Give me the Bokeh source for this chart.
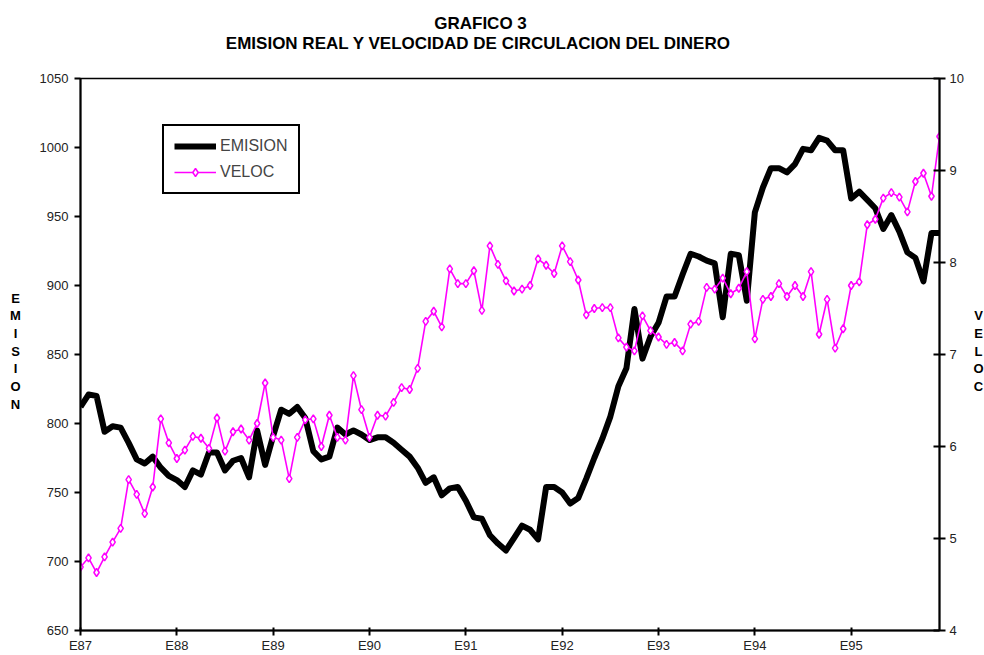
from bokeh.plotting import figure
from bokeh.models import Range1d, LinearAxis, FixedTicker, Legend, LegendItem
from bokeh.layouts import column, row
from bokeh.core.properties import value
from bokeh.embed import file_html
from bokeh.resources import INLINE

# ---------------- data (monthly, Jan 1987 .. Dec 1995) ----------------
emision = [812, 821, 820, 794, 798, 797, 786, 774, 771, 776, 768, 762,
           759, 754, 766, 763, 779, 779, 766, 773, 775, 761, 795, 770,
           791, 810, 807, 812, 804, 780, 774, 776, 797, 792, 795, 792,
           788, 790, 790, 786, 781, 776, 768, 757, 761, 748, 753, 754,
           744, 732, 731, 719, 713, 708, 717, 726, 723, 716, 754, 754,
           750, 742, 746, 760, 775, 789, 805, 827, 840, 883, 847, 863,
           873, 892, 892, 908, 923, 921, 918, 916, 877, 923, 922, 889,
           953, 971, 985, 985, 982, 988, 999, 998, 1007, 1005, 998, 998,
           963, 968, 962, 956, 941, 951, 939, 924, 920, 903, 938, 938]

veloc = [4.69, 4.79, 4.63, 4.80, 4.96, 5.11, 5.64, 5.48, 5.27, 5.56, 6.30, 6.04,
         5.87, 5.96, 6.11, 6.09, 5.98, 6.31, 5.95, 6.16, 6.19, 6.07, 6.25, 6.69,
         6.10, 6.07, 5.65, 6.10, 6.29, 6.30, 6.00, 6.34, 6.10, 6.07, 6.77, 6.40,
         6.10, 6.34, 6.33, 6.48, 6.64, 6.62, 6.85, 7.36, 7.47, 7.30, 7.93, 7.77,
         7.77, 7.91, 7.48, 8.18, 7.98, 7.80, 7.69, 7.71, 7.75, 8.04, 7.97, 7.88,
         8.18, 8.01, 7.81, 7.43, 7.50, 7.51, 7.51, 7.18, 7.08, 7.04, 7.42, 7.26,
         7.19, 7.11, 7.13, 7.04, 7.33, 7.36, 7.73, 7.71, 7.83, 7.66, 7.72, 7.90,
         7.17, 7.60, 7.63, 7.77, 7.63, 7.75, 7.63, 7.90, 7.22, 7.60, 7.07, 7.28,
         7.75, 7.79, 8.41, 8.47, 8.70, 8.76, 8.71, 8.55, 8.88, 8.97, 8.72, 9.37]

year_labels = ["E87", "E88", "E89", "E90", "E91", "E92", "E93", "E94", "E95"]
left_ticks = [650, 700, 750, 800, 850, 900, 950, 1000, 1050]
right_ticks = [4, 5, 6, 7, 8, 9, 10]

title_lines = ["GRAFICO 3", "EMISION REAL Y VELOCIDAD DE CIRCULACION DEL DINERO"]
left_title = "EMISION"
right_title = "VELOC"

months = list(range(len(emision)))
year_ticks = [12 * i for i in range(len(year_labels))]

FONT = "Liberation Sans"
TOP_H = 60
MAIN_H = 655 - TOP_H
LEFT_W = 30
RIGHT_W = 18
MAIN_W = 984 - LEFT_W - RIGHT_W


def text_panel(w, h):
    f = figure(width=w, height=h, output_backend="svg", toolbar_location=None,
               x_range=Range1d(0, w), y_range=Range1d(h, 0),
               x_axis_location=None, y_axis_location=None, min_border=0)
    f.xgrid.visible = False
    f.ygrid.visible = False
    f.outline_line_color = None
    f.background_fill_color = "white"
    f.border_fill_color = "white"
    return f


# ---------------- title panel ----------------
top = text_panel(984, TOP_H)
top.text(x=[480, 478], y=[23, 43], text=title_lines, text_align="center",
         text_baseline="alphabetic", text_font=value(FONT), text_font_style="bold",
         text_font_size="17px", text_color="black")

# ---------------- side panels with stacked letters ----------------
left = text_panel(LEFT_W, MAIN_H)
left.text(x=[15] * len(left_title), y=[297 - TOP_H + 19 * i for i in range(len(left_title))],
          text=list(left_title), text_align="center", text_baseline="middle",
          text_font=value(FONT), text_font_style="bold", text_font_size="13px",
          text_color="black")

right = text_panel(RIGHT_W, MAIN_H)
right.text(x=[12] * len(right_title), y=[316 - TOP_H + 19 * i for i in range(len(right_title))],
           text=list(right_title), text_align="center", text_baseline="middle",
           text_font=value(FONT), text_font_style="bold", text_font_size="13px",
           text_color="black")

# ---------------- main chart ----------------
p = figure(width=MAIN_W, height=MAIN_H, output_backend="svg", toolbar_location=None,
           x_range=Range1d(0, len(emision) - 1), y_range=Range1d(650, 1050),
           min_border_left=80 - LEFT_W, min_border_right=(LEFT_W + MAIN_W) - 939,
           min_border_top=78 - TOP_H, min_border_bottom=24, title=None,
           y_axis_location=None)
p.extra_y_ranges = {"veloc": Range1d(4, 10)}
p.xgrid.visible = False
p.ygrid.visible = False
p.outline_line_color = "black"
p.outline_line_width = 1.5
p.background_fill_color = "white"
p.border_fill_color = "white"

ly = LinearAxis(ticker=FixedTicker(ticks=left_ticks))
ry = LinearAxis(y_range_name="veloc", ticker=FixedTicker(ticks=right_ticks))
for ax in (ly, ry):
    ax.minor_tick_line_color = None
    ax.axis_line_width = 2
    ax.major_tick_line_width = 2
    ax.major_label_text_font = FONT
    ax.major_label_text_font_size = "13px"
    ax.major_label_text_color = "#222222"
ly.major_tick_out = 6
ly.major_tick_in = 0
ly.major_label_standoff = 6
ry.major_tick_out = 6
ry.major_tick_in = 6
ry.major_label_standoff = 4
p.add_layout(ly, "left")
p.add_layout(ry, "right")

xa = p.xaxis[0]
xa.ticker = FixedTicker(ticks=year_ticks)
xa.major_label_overrides = {t: lab for t, lab in zip(year_ticks, year_labels)}
xa.minor_tick_line_color = None
xa.axis_line_width = 2
xa.major_tick_line_width = 2
xa.major_tick_out = 5
xa.major_tick_in = 3
xa.major_label_standoff = 2
xa.major_label_text_font = FONT
xa.major_label_text_font_size = "13px"
xa.major_label_text_color = "#222222"

r_em = p.line(months, emision, line_color="black", line_width=6, line_join="round")
r_ve = p.line(months, veloc, line_color="#FF00FF", line_width=1.6, y_range_name="veloc")
r_vm = p.scatter(months, veloc, marker="diamond", size=8, fill_color="white",
                 line_color="#FF00FF", line_width=1.5, y_range_name="veloc")

legend = Legend(items=[LegendItem(label="EMISION", renderers=[r_em]),
                       LegendItem(label="VELOC", renderers=[r_ve, r_vm])],
                location=(82, 436), padding=10, margin=0, spacing=6,
                glyph_width=42, glyph_height=20, label_standoff=4,
                label_text_font=FONT, label_text_font_size="16px",
                border_line_color="black", border_line_width=2, border_line_alpha=1.0,
                background_fill_alpha=1.0)
p.add_layout(legend, "center")

layout = column(top, row(left, p, right, spacing=0), spacing=0)
open("out.html", "w").write(file_html(layout, INLINE))
